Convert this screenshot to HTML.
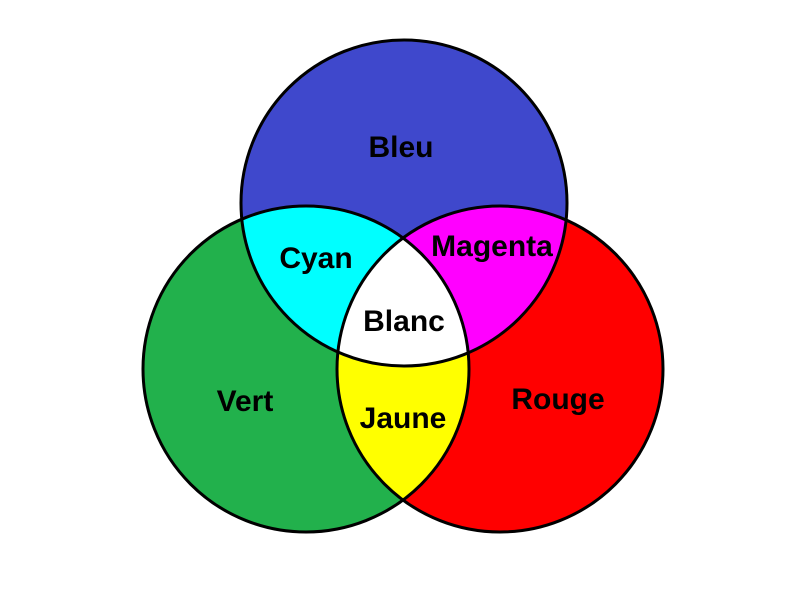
<!DOCTYPE html>
<html><head><style>html,body{margin:0;padding:0;background:#fff;}svg{display:block}</style></head>
<body>
<svg width="800" height="600" viewBox="0 0 800 600" xmlns="http://www.w3.org/2000/svg">
<defs>
<clipPath id="cb"><circle cx="404" cy="203" r="163"/></clipPath>
<clipPath id="cg"><circle cx="306" cy="369" r="163"/></clipPath>
<clipPath id="cr"><circle cx="500" cy="369" r="163"/></clipPath>
</defs>
<circle cx="404" cy="203" r="163" fill="#3f48cc"/>
<circle cx="306" cy="369" r="163" fill="#22b14c"/>
<circle cx="500" cy="369" r="163" fill="#ff0000"/>
<g clip-path="url(#cb)"><circle cx="306" cy="369" r="163" fill="#00ffff"/><circle cx="500" cy="369" r="163" fill="#ff00ff"/></g>
<g clip-path="url(#cg)"><circle cx="500" cy="369" r="163" fill="#ffff00"/></g>
<g clip-path="url(#cb)"><g clip-path="url(#cg)"><circle cx="500" cy="369" r="163" fill="#ffffff"/></g></g>
<g fill="none" stroke="#000" stroke-width="3">
<circle cx="404" cy="203" r="163"/><circle cx="306" cy="369" r="163"/><circle cx="500" cy="369" r="163"/>
</g>
<g font-family="Liberation Sans, sans-serif" font-weight="bold" font-size="30" text-anchor="middle" fill="#000">
<text x="401" y="157">Bleu</text>
<text x="316" y="268">Cyan</text>
<text x="492" y="256">Magenta</text>
<text x="404" y="331">Blanc</text>
<text x="245" y="411">Vert</text>
<text x="558" y="409">Rouge</text>
<text x="403" y="428">Jaune</text>
</g>
</svg>
</body></html>
